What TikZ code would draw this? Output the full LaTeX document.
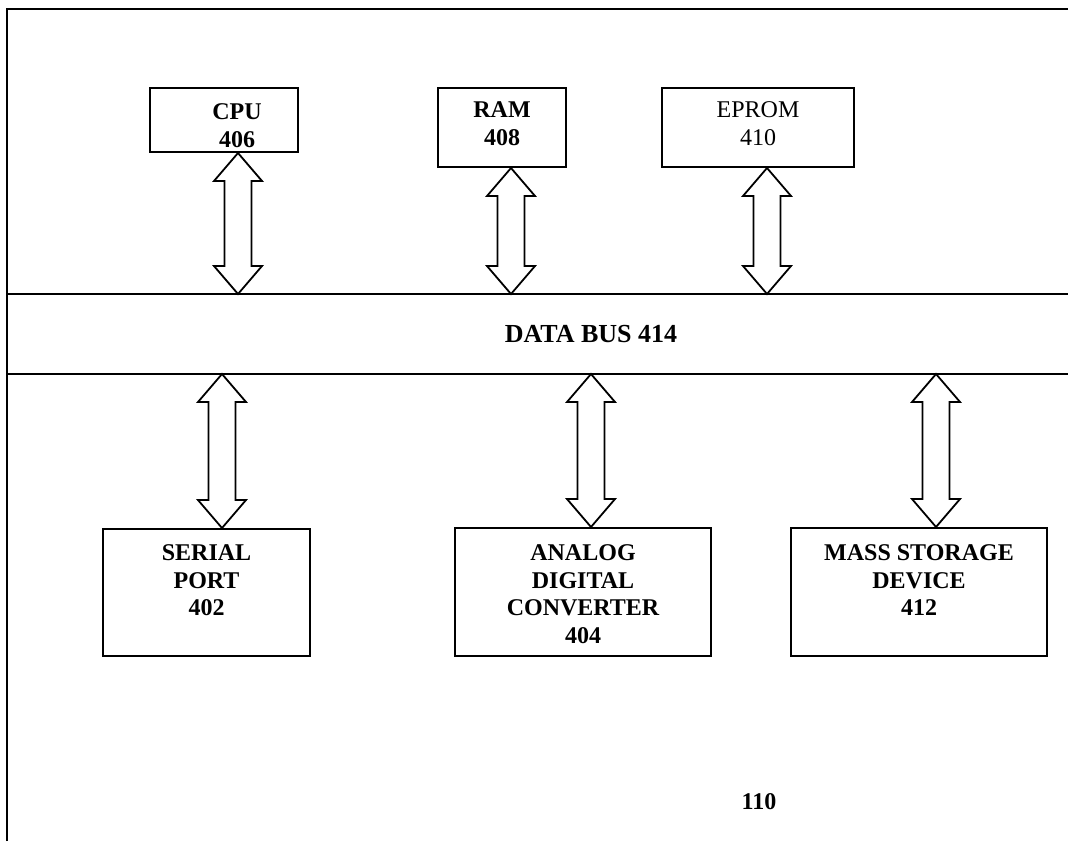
\documentclass[tikz,border=0pt]{standalone}
\usepackage{fontspec}
\setmainfont{Liberation Serif}
\usetikzlibrary{positioning,calc}
\tikzset{
blk/.style={draw, line width=1pt, inner sep=0pt},
lbl/.style={inner sep=0pt, align=center,
  font=\fontsize{12}{13.9}\selectfont\bfseries},
busline/.style={line width=1pt},
fatarrow/.style={draw, line width=0.9pt, line join=miter, fill=white}
}
% two-headed block arrow from top tip #1 to bottom tip #2
\newcommand{\bidir}[2]{%
  \draw[fatarrow] (#1) -- ++(24,-28) -- ++(-10.5,0) -- ($(#2)+(13.5,28)$)
    -- ++(10.5,0) -- (#2) -- ++(-24,28) -- ++(10.5,0)
    -- ($(#1)+(-13.5,-28)$) -- ++(-10.5,0) -- cycle;}

\begin{document}
\begin{tikzpicture}[x=0.5pt, y=0.5pt]
	\useasboundingbox (0,0) rectangle (1068,-841);
	% frame
	\draw[busline] (7,-841) -- (7,-9) -- (1068,-9);
	% data bus
	\coordinate (bt-l) at (7,-294);  \coordinate (bt-r) at (1068,-294);
	\coordinate (bb-l) at (7,-374);  \coordinate (bb-r) at (1068,-374);
	\draw[busline] (bt-l) -- (bt-r);
	\draw[busline] (bb-l) -- (bb-r);
	\node[inner sep=0pt, font=\fontsize{13}{15}\selectfont\bfseries] (bus)
		at (591,-334) {DATA BUS 414};

	% upper units
	\node[blk, minimum width=74pt, minimum height=32pt] (cpu) at (224,-120) {};
	\node[blk, minimum width=64pt, minimum height=39.5pt] (ram) at (502,-127.5) {};
	\node[blk, minimum width=96pt, minimum height=39.5pt] (eprom) at (758,-127.5) {};
	\node[lbl, below=8pt of cpu.north, xshift=6.5pt] (cpu-txt) {CPU\\406};
	\node[lbl, below=7pt of ram.north] (ram-txt) {RAM\\408};
	\node[lbl, below=7pt of eprom.north, font=\fontsize{12}{13.9}\selectfont]
		(eprom-txt) {EPROM\\410};

	% lower units
	\node[blk, minimum width=103.5pt, minimum height=63.5pt] (serial) at (206.5,-592.5) {};
	\node[blk, minimum width=128pt, minimum height=64pt] (adc) at (583,-592) {};
	\node[blk, minimum width=128pt, minimum height=64pt] (mass) at (919,-592) {};
	\node[lbl, below=8pt of serial.north] (serial-txt) {SERIAL\\PORT\\402};
	\node[lbl, below=8.5pt of adc.north] (adc-txt) {ANALOG\\DIGITAL\\CONVERTER\\404};
	\node[lbl, below=8.5pt of mass.north] (mass-txt) {MASS STORAGE\\DEVICE\\412};

	% bus connections
	\coordinate (t1) at (238,-294);  \coordinate (c1) at (cpu.south -| t1);
	\coordinate (t2) at (511,-294);  \coordinate (c2) at (ram.south -| t2);
	\coordinate (t3) at (767,-294);  \coordinate (c3) at (eprom.south -| t3);
	\coordinate (b1) at (222,-374);  \coordinate (d1) at (serial.north -| b1);
	\coordinate (b2) at (591,-374);  \coordinate (d2) at (adc.north -| b2);
	\coordinate (b3) at (936,-374);  \coordinate (d3) at (mass.north -| b3);
	\bidir{c1}{t1}
	\bidir{c2}{t2}
	\bidir{c3}{t3}
	\bidir{b1}{d1}
	\bidir{b2}{d2}
	\bidir{b3}{d3}

	\node[inner sep=0pt, font=\fontsize{12}{14}\selectfont\bfseries] (ref)
		at (759,-802) {110};
\end{tikzpicture}
\end{document}
